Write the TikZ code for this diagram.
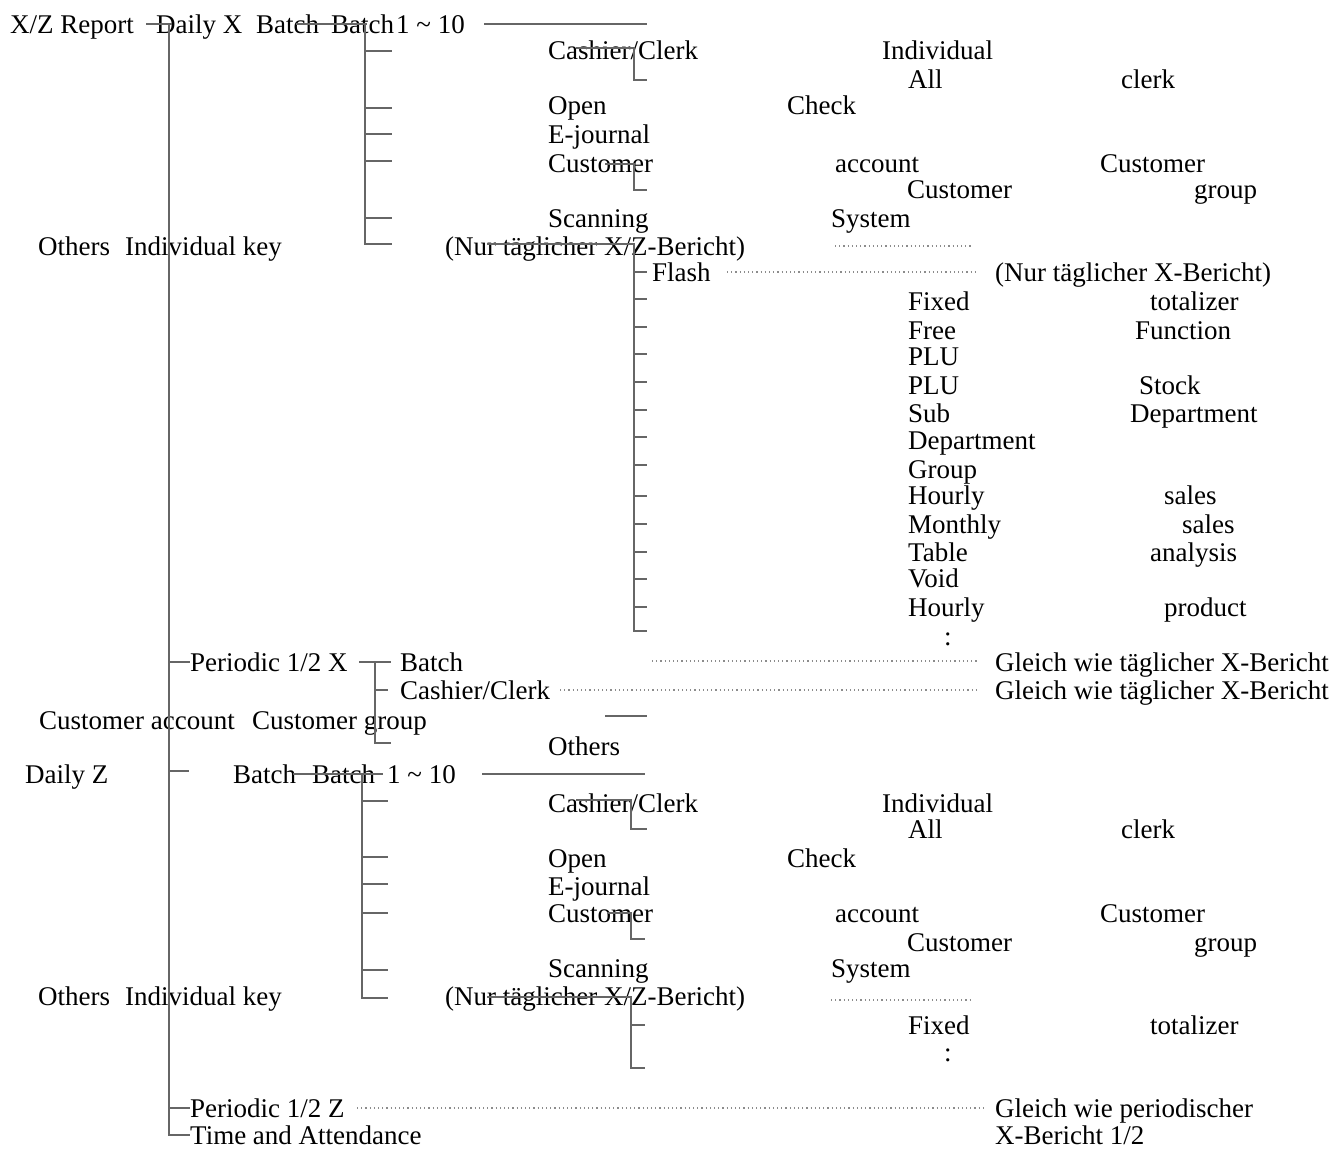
\documentclass[tikz,border=0pt]{standalone}
\usepackage{fontspec}
\setmainfont{Liberation Serif}
\newcommand\tx[4]{\node[txt] (#1) at (#2,#3+9) {#4};}
\begin{document}
\begin{tikzpicture}[x=1pt,y=-1pt,
  txt/.style={anchor=base west,inner sep=0pt,font=\fontsize{27}{32}\selectfont},
  ln/.style={draw=black!60,line width=1.4pt},
  dl/.style={draw=black!45,line width=1.2pt,dash pattern=on 1.2pt off 3pt}]
\fill[white] (0,0) rectangle (1343,1151);
\useasboundingbox (0,0) rectangle (1343,1151);
% ---------- texts: upper part ----------
\tx{xz}{10}{24}{X/Z Report}
\tx{dx}{156}{24}{Daily X}
\tx{ba1}{256}{24}{Batch}
\tx{ba2}{331}{24}{Batch}
\tx{b10}{396}{24}{1 \textasciitilde{} 10}
\tx{cc1}{548}{50}{Cashier/Clerk}
\tx{ind1}{882}{50}{Individual}
\tx{all1}{908}{79}{All}
\tx{clk1}{1121}{79}{clerk}
\tx{op1}{548}{105}{Open}
\tx{chk1}{787}{105}{Check}
\tx{ej1}{548}{134}{E-journal}
\tx{cu1}{548}{163}{Customer}
\tx{acc1}{835}{163}{account}
\tx{cua1}{1100}{163}{Customer}
\tx{cub1}{907}{189}{Customer}
\tx{grp1}{1194}{189}{group}
\tx{sc1}{548}{218}{Scanning}
\tx{sys1}{831}{218}{System}
\tx{ot1}{38}{246}{Others}
\tx{ik1}{125}{246}{Individual key}
\tx{nur1}{445}{246}{(Nur täglicher X/Z-Bericht)}
\tx{fl}{652}{272}{Flash}
\tx{nurx}{995}{272}{(Nur täglicher X-Bericht)}
\tx{fx1}{908}{301}{Fixed}
\tx{tot1}{1150}{301}{totalizer}
\tx{fr}{908}{330}{Free}
\tx{fun}{1135}{330}{Function}
\tx{plua}{908}{356}{PLU}
\tx{plub}{908}{385}{PLU}
\tx{stk}{1139}{385}{Stock}
\tx{sub}{908}{413}{Sub}
\tx{dep}{1130}{413}{Department}
\tx{depb}{908}{440}{Department}
\tx{grp}{908}{469}{Group}
\tx{hra}{908}{495}{Hourly}
\tx{sla}{1164}{495}{sales}
\tx{mon}{908}{524}{Monthly}
\tx{slb}{1182}{524}{sales}
\tx{tab}{908}{552}{Table}
\tx{ana}{1150}{552}{analysis}
\tx{vd}{908}{578}{Void}
\tx{hrb}{908}{607}{Hourly}
\tx{prd}{1164}{607}{product}
\tx{dt1}{944}{636}{:}
\tx{px}{190}{662}{Periodic 1/2 X}
\tx{pb}{400}{662}{Batch}
\tx{g1}{995}{662}{Gleich wie täglicher X-Bericht}
\tx{pc}{400}{690}{Cashier/Clerk}
\tx{g2}{995}{690}{Gleich wie täglicher X-Bericht}
\tx{ca}{39}{720}{Customer account}
\tx{cg}{252}{720}{Customer group}
\tx{oth}{548}{746}{Others}
% ---------- texts: lower part ----------
\tx{dz}{25}{774}{Daily Z}
\tx{bz1}{233}{774}{Batch}
\tx{bz2}{312}{774}{Batch}
\tx{bz10}{387}{774}{1 \textasciitilde{} 10}
\tx{cc2}{548}{803}{Cashier/Clerk}
\tx{ind2}{882}{803}{Individual}
\tx{all2}{908}{829}{All}
\tx{clk2}{1121}{829}{clerk}
\tx{op2}{548}{858}{Open}
\tx{chk2}{787}{858}{Check}
\tx{ej2}{548}{886}{E-journal}
\tx{cu2}{548}{913}{Customer}
\tx{acc2}{835}{913}{account}
\tx{cua2}{1100}{913}{Customer}
\tx{cub2}{907}{942}{Customer}
\tx{grp2}{1194}{942}{group}
\tx{sc2}{548}{968}{Scanning}
\tx{sys2}{831}{968}{System}
\tx{ot2}{38}{996}{Others}
\tx{ik2}{125}{996}{Individual key}
\tx{nur2}{445}{996}{(Nur täglicher X/Z-Bericht)}
\tx{fx2}{908}{1025}{Fixed}
\tx{tot2}{1150}{1025}{totalizer}
\tx{dt2}{944}{1052}{:}
\tx{pz}{190}{1108}{Periodic 1/2 Z}
\tx{gp}{995}{1108}{Gleich wie periodischer}
\tx{ta}{190}{1135}{Time and Attendance}
\tx{xb}{995}{1135}{X-Bericht 1/2}
% ---------- lines ----------
\draw[ln] (169,24) -- (169,1135) -- (190,1135);
\draw[ln] (146,24) -- (172,24);
\draw[ln] (296,24) -- (367,24);
\draw[ln] (365,24) -- (365,244) -- (392,244);
\foreach \y in {51,108,134,161,218} \draw[ln] (365,\y) -- (392,\y);
\draw[ln] (484,24) -- (647,24);
\draw[ln] (576,48) -- (634,48) -- (634,80) -- (647,80);
\draw[ln] (605,164) -- (634,164) -- (634,190) -- (647,190);
\draw[ln] (487,244) -- (634,244) -- (634,631) -- (647,631);
\foreach \y in {272,299,327,354,382,410,437,465,496,524,552,579,607} \draw[ln] (634,\y) -- (647,\y);
\draw[dl] (835,246) -- (972,246);
\draw[dl] (727,272) -- (977,272);
% periodic X
\draw[ln] (169,662) -- (190,662);
\draw[ln] (359,662) -- (391,662);
\draw[ln] (375,662) -- (375,743) -- (391,743);
\draw[ln] (375,690) -- (388,690);
\draw[dl] (652,661) -- (979,661);
\draw[dl] (560,690) -- (979,690);
\draw[ln] (605,716) -- (647,716);
% daily Z
\draw[ln] (169,771) -- (189,771);
\draw[ln] (293,774) -- (383,774);
\draw[ln] (362,774) -- (362,998) -- (388,998);
\foreach \y in {801,857,884,913,970} \draw[ln] (362,\y) -- (388,\y);
\draw[ln] (482,774) -- (645,774);
\draw[ln] (576,800) -- (631,800) -- (631,829) -- (647,829);
\draw[ln] (607,913) -- (631,913) -- (631,939) -- (645,939);
\draw[ln] (487,997) -- (631,997) -- (631,1068) -- (645,1068);
\draw[ln] (631,1025) -- (645,1025);
\draw[dl] (831,1000) -- (970,1000);
% periodic Z
\draw[ln] (169,1108) -- (190,1108);
\draw[dl] (357,1108) -- (983,1108);
\end{tikzpicture}
\end{document}
